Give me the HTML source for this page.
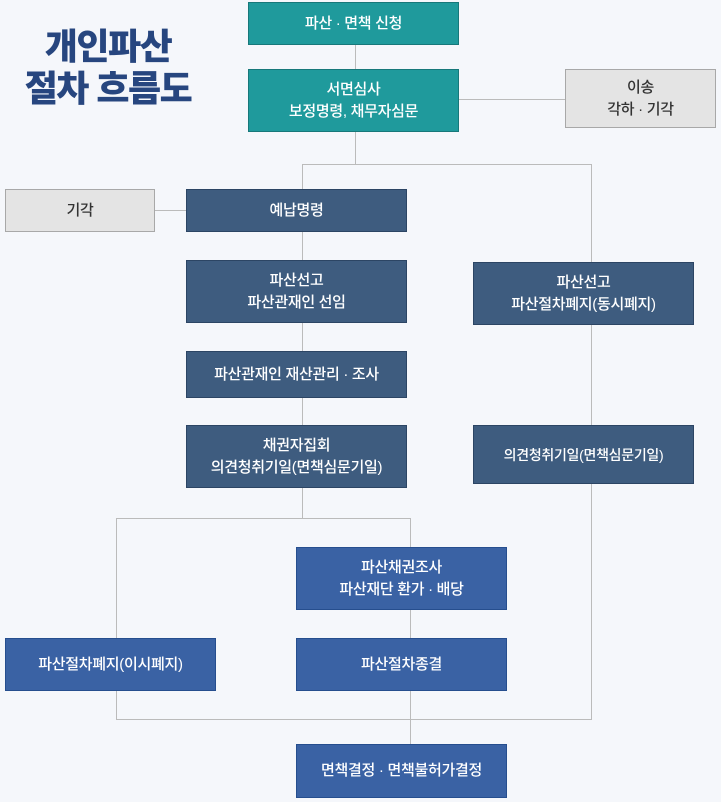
<!DOCTYPE html>
<html><head><meta charset="utf-8"><style>
body{margin:0;width:721px;height:802px;background:#f5f7fb;position:relative;overflow:hidden;font-family:"Liberation Sans","Noto Sans CJK KR",sans-serif}
.b{position:absolute;box-sizing:border-box;display:flex;align-items:center;justify-content:center;text-align:center;color:#fff;font-size:15px;line-height:22px;font-weight:500;letter-spacing:-0.3px}
.t{background:#1f9a9c;border:1px solid #17787a}
.d{background:#3e5c7f;border:1px solid #2c4564}
.u{background:#3a62a4;border:1px solid #264e8e}
.g{background:#e4e4e4;border:1px solid #a8a8a8;color:#333}
.h{position:absolute;height:1px;background:#bbbbbb}
.v{position:absolute;width:1px;background:#bbbbbb}
.title{position:absolute;left:10px;top:26px;width:196px;text-align:center;color:#27467f;font-size:36px;font-weight:900;line-height:42px;letter-spacing:-1.5px}
</style></head><body>
<div class="title">개인파산<br>절차 흐름도</div>
<div class="v" style="left:355px;top:44px;height:25px"></div>
<div class="v" style="left:355px;top:131px;height:33px"></div>
<div class="h" style="left:458px;top:99px;width:107px"></div>
<div class="h" style="left:302px;top:164px;width:290px"></div>
<div class="v" style="left:302px;top:164px;height:354px"></div>
<div class="v" style="left:591px;top:164px;height:556px"></div>
<div class="h" style="left:154px;top:210px;width:32px"></div>
<div class="h" style="left:116px;top:518px;width:295px"></div>
<div class="v" style="left:116px;top:518px;height:202px"></div>
<div class="v" style="left:410px;top:518px;height:226px"></div>
<div class="h" style="left:116px;top:719px;width:476px"></div>

<div class="b t" style="left:248px;top:2px;width:211px;height:43px">파산 · 면책 신청</div>
<div class="b t" style="left:248px;top:69px;width:211px;height:63px">서면심사<br>보정명령, 채무자심문</div>
<div class="b g" style="left:565px;top:69px;width:151px;height:59px">이송<br>각하 · 기각</div>
<div class="b g" style="left:5px;top:189px;width:150px;height:43px">기각</div>
<div class="b d" style="left:186px;top:189px;width:221px;height:43px">예납명령</div>
<div class="b d" style="left:186px;top:260px;width:221px;height:63px">파산선고<br>파산관재인 선임</div>
<div class="b d" style="left:186px;top:351px;width:221px;height:47px">파산관재인 재산관리 · 조사</div>
<div class="b d" style="left:186px;top:425px;width:221px;height:63px">채권자집회<br>의견청취기일(면책심문기일)</div>
<div class="b d" style="left:473px;top:262px;width:221px;height:63px">파산선고<br>파산절차폐지(동시폐지)</div>
<div class="b d" style="left:473px;top:425px;width:221px;height:59px;font-size:14px">의견청취기일(면책심문기일)</div>
<div class="b u" style="left:296px;top:547px;width:211px;height:63px">파산채권조사<br>파산재단 환가 · 배당</div>
<div class="b u" style="left:5px;top:638px;width:211px;height:53px">파산절차폐지(이시폐지)</div>
<div class="b u" style="left:296px;top:638px;width:211px;height:53px">파산절차종결</div>
<div class="b u" style="left:296px;top:744px;width:211px;height:54px">면책결정 · 면책불허가결정</div>
</body></html>
